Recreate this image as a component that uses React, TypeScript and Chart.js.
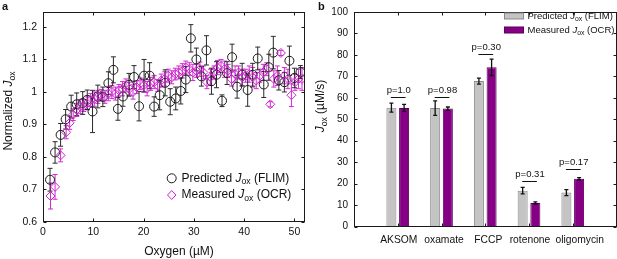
import React, { useEffect, useRef } from 'react';
import { Chart, registerables } from 'chart.js';

Chart.register(...registerables);

const FONT = '"Liberation Sans", Arial, Helvetica, sans-serif';

// ---------- Panel a data ----------
const predictedO2 = [1.4, 2.4, 3.5, 4.5, 5.6, 6.7, 7.9, 8.8, 9.85, 10.9, 11.9, 13.0, 14.0, 14.9, 15.9, 17.1, 18.1, 19.1, 20.1, 21.2, 22.1, 23.2, 24.3, 25.3, 26.4, 27.4, 28.4, 29.4, 30.5, 31.5, 32.5, 33.5, 34.5, 35.6, 36.6, 37.6, 38.6, 39.6, 40.7, 41.7, 42.7, 43.9, 44.9, 45.8, 46.9, 48.0, 49.0, 50.0, 51.2];
const predictedNorm = [0.73, 0.814, 0.868, 0.916, 0.955, 0.962, 0.966, 0.976, 0.94, 0.986, 0.985, 1.027, 1.068, 0.948, 0.986, 1.022, 1.046, 0.956, 1.05, 1.05, 0.955, 0.99, 1.028, 0.97, 0.98, 1.003, 1.038, 1.165, 1.10, 1.048, 1.128, 1.033, 1.053, 0.973, 1.058, 1.107, 1.016, 1.053, 1.006, 1.053, 1.103, 1.023, 1.076, 1.121, 1.036, 1.030, 1.096, 1.043, 1.061];
const predictedNormErr = [0.035, 0.033, 0.035, 0.03, 0.035, 0.035, 0.035, 0.03, 0.065, 0.035, 0.03, 0.035, 0.04, 0.035, 0.03, 0.035, 0.035, 0.045, 0.05, 0.04, 0.03, 0.045, 0.04, 0.04, 0.035, 0.04, 0.04, 0.042, 0.035, 0.03, 0.045, 0.04, 0.04, 0.018, 0.035, 0.04, 0.035, 0.035, 0.05, 0.035, 0.035, 0.04, 0.04, 0.05, 0.03, 0.03, 0.045, 0.03, 0.02];

const measuredO2 = [1.5, 2.4, 3.5, 4.6, 5.3, 6.0, 6.7, 7.4, 8.1, 8.8, 9.5, 10.2, 10.9, 11.6, 12.3, 13.0, 13.7, 14.4, 15.1, 15.8, 16.5, 17.2, 17.9, 18.6, 19.3, 20.0, 20.7, 21.4, 22.1, 22.8, 23.5, 24.2, 24.9, 25.6, 26.3, 27.0, 27.7, 28.4, 29.1, 29.8, 30.5, 31.2, 31.9, 32.6, 33.3, 34.0, 34.7, 35.4, 36.1, 36.8, 37.5, 38.2, 38.9, 39.6, 40.3, 41.0, 41.7, 42.4, 43.1, 43.8, 44.5, 45.2, 45.9, 46.6, 47.3, 48.0, 48.7, 49.4, 50.1, 50.8, 51.5];
const measuredNorm = [0.68, 0.708, 0.805, 0.876, 0.905, 0.93, 0.945, 0.955, 0.958, 0.965, 0.975, 0.978, 0.985, 0.99, 0.985, 0.995, 1.0, 0.995, 1.005, 1.01, 1.02, 1.01, 1.0, 1.015, 1.025, 1.02, 1.01, 1.025, 1.03, 1.02, 1.035, 1.04, 1.05, 1.045, 1.055, 1.06, 1.065, 1.075, 1.07, 1.06, 1.065, 1.07, 1.06, 1.03, 1.045, 1.06, 1.075, 1.08, 1.07, 1.065, 1.04, 1.055, 1.06, 1.045, 1.05, 1.055, 1.045, 1.035, 1.05, 1.06, 1.07, 0.962, 1.04, 1.05, 1.12, 1.05, 1.04, 0.99, 1.03, 1.04, 1.04];
const measuredNormErr = [0.04, 0.038, 0.02, 0.02, 0.02, 0.018, 0.02, 0.022, 0.018, 0.02, 0.02, 0.022, 0.02, 0.018, 0.02, 0.022, 0.02, 0.02, 0.018, 0.022, 0.02, 0.02, 0.022, 0.02, 0.018, 0.02, 0.022, 0.02, 0.02, 0.018, 0.02, 0.022, 0.02, 0.02, 0.018, 0.02, 0.022, 0.02, 0.02, 0.025, 0.02, 0.022, 0.02, 0.02, 0.025, 0.02, 0.022, 0.02, 0.025, 0.02, 0.022, 0.025, 0.02, 0.025, 0.02, 0.025, 0.03, 0.025, 0.02, 0.025, 0.02, 0.008, 0.025, 0.03, 0.008, 0.025, 0.03, 0.035, 0.025, 0.03, 0.035];

const oxygenTicks = [0, 10, 20, 30, 40, 50];
const normTicks = [0.6, 0.7, 0.8, 0.9, 1.0, 1.1, 1.2];

// ---------- Panel b data ----------
const treatments = ['AKSOM', 'oxamate', 'FCCP', 'rotenone', 'oligomycin'];
const predictedJox = [55.4, 55.2, 67.8, 16.7, 15.8];
const predictedJoxErr = [2.1, 3.4, 1.4, 1.5, 1.4];
const measuredJox = [55.3, 55.0, 74.2, 11.0, 22.3];
const measuredJoxErr = [1.6, 0.7, 3.8, 0.5, 0.5];
const pLabels = ['p=1.0', 'p=0.98', 'p=0.30', 'p=0.31', 'p=0.17'];
const pLineLevel = [60.5, 60.5, 80.3, 21.4, 27.0];
const joxTicks = [0, 10, 20, 30, 40, 50, 60, 70, 80, 90, 100];

// small horizontal nudges of the category labels (styling, px)
const CATEGORY_LABEL_NUDGE = [1, 2.5, 3, 1, 7];

// ---------- helpers ----------
type Seg = { t: string; s?: 'i' | 'sub' };
function segFont(seg: Seg, size: number) {
  if (seg.s === 'i') return `italic ${size}px ${FONT}`;
  if (seg.s === 'sub') return `${(size * 0.72).toFixed(2)}px ${FONT}`;
  return `${size}px ${FONT}`;
}
function drawRich(ctx: CanvasRenderingContext2D, segs: Seg[], x: number, y: number, size: number, align: 'left' | 'center') {
  ctx.textBaseline = 'middle';
  ctx.textAlign = 'left';
  let w = 0;
  for (const s of segs) {
    ctx.font = segFont(s, size);
    w += ctx.measureText(s.t).width;
  }
  let cx = align === 'center' ? x - w / 2 : x;
  for (const s of segs) {
    ctx.font = segFont(s, size);
    ctx.fillText(s.t, cx, s.s === 'sub' ? y + size * 0.3 : y);
    cx += ctx.measureText(s.t).width;
  }
}

const errorBarPlugin = {
  id: 'errBarsA',
  beforeDatasetsDraw(chart: any) {
    const { ctx } = chart;
    const xs = chart.scales.x;
    const ys = chart.scales.y;
    chart.data.datasets.forEach((ds: any) => {
      const errs: number[] = ds.errors || [];
      ctx.save();
      ctx.strokeStyle = ds.errColor;
      ctx.lineWidth = 1;
      ds.data.forEach((p: any, i: number) => {
        const e = errs[i] ?? 0;
        const px = xs.getPixelForValue(p.x);
        const y1 = ys.getPixelForValue(p.y - e);
        const y2 = ys.getPixelForValue(p.y + e);
        ctx.beginPath();
        ctx.moveTo(px, y1); ctx.lineTo(px, y2);
        ctx.moveTo(px - 2.5, y1); ctx.lineTo(px + 2.5, y1);
        ctx.moveTo(px - 2.5, y2); ctx.lineTo(px + 2.5, y2);
        ctx.stroke();
      });
      ctx.restore();
    });
  },
  afterDraw(chart: any) {
    const { ctx, chartArea: a } = chart;
    const xs = chart.scales.x;
    const ys = chart.scales.y;
    ctx.save();
    ctx.strokeStyle = '#1a1a1a';
    ctx.lineWidth = 1;
    const L = Math.round(a.left) + 0.5, R = Math.round(a.right) - 0.5;
    const T = Math.round(a.top) + 0.5, B = Math.round(a.bottom) - 0.5;
    ctx.strokeRect(L, T, R - L, B - T);
    ctx.beginPath();
    for (const v of oxygenTicks) {
      const px = Math.round(xs.getPixelForValue(v)) + 0.5;
      ctx.moveTo(px, B); ctx.lineTo(px, B - 3);
      ctx.moveTo(px, T); ctx.lineTo(px, T + 3);
    }
    for (const v of normTicks) {
      const py = Math.round(ys.getPixelForValue(v)) + 0.5;
      ctx.moveTo(L, py); ctx.lineTo(L + 3, py);
      ctx.moveTo(R, py); ctx.lineTo(R - 3, py);
    }
    ctx.stroke();

    ctx.fillStyle = '#111';
    drawRich(ctx, [{ t: 'Oxygen (µM)' }], 179, 251.5, 12, 'center');
    ctx.save();
    ctx.translate(9, 111);
    ctx.rotate(-Math.PI / 2);
    drawRich(ctx, [{ t: 'Normalized ' }, { t: 'J', s: 'i' }, { t: 'ox', s: 'sub' }], 0, 0, 12, 'center');
    ctx.restore();
    ctx.font = `bold 11px ${FONT}`;
    ctx.textBaseline = 'middle';
    ctx.textAlign = 'left';
    ctx.fillText('a', 2, 7);

    // legend
    ctx.lineWidth = 1;
    ctx.strokeStyle = '#1a1a1a';
    ctx.beginPath();
    ctx.arc(171.7, 178.3, 4.5, 0, Math.PI * 2);
    ctx.stroke();
    ctx.strokeStyle = '#cc22cc';
    ctx.beginPath();
    ctx.moveTo(171.7, 195 - 4.5); ctx.lineTo(171.7 + 4.2, 195); ctx.lineTo(171.7, 195 + 4.5); ctx.lineTo(171.7 - 4.2, 195); ctx.closePath();
    ctx.stroke();
    ctx.fillStyle = '#111';
    drawRich(ctx, [{ t: 'Predicted ' }, { t: 'J', s: 'i' }, { t: 'ox', s: 'sub' }, { t: ' (FLIM)' }], 181.5, 178.3, 12, 'left');
    drawRich(ctx, [{ t: 'Measured ' }, { t: 'J', s: 'i' }, { t: 'ox', s: 'sub' }, { t: ' (OCR)' }], 181.5, 195, 12, 'left');
    ctx.restore();
  },
};

const barPlugin = {
  id: 'barDecor',
  beforeDatasetsDraw(chart: any) {
    const { ctx, chartArea: a } = chart;
    const xs = chart.scales.x;
    ctx.save();
    ctx.strokeStyle = '#1a1a1a';
    ctx.lineWidth = 1;
    ctx.beginPath();
    const B = Math.round(a.bottom) - 0.5, T = Math.round(a.top) + 0.5;
    treatments.forEach((_, j) => {
      const px = Math.round(xs.getPixelForValue(j + 1)) + 0.5;
      ctx.moveTo(px, B); ctx.lineTo(px, B - 3);
      ctx.moveTo(px, T); ctx.lineTo(px, T + 3);
    });
    ctx.stroke();
    ctx.restore();
  },
  afterDatasetsDraw(chart: any) {
    const { ctx } = chart;
    const ys = chart.scales.y;
    ctx.save();
    ctx.strokeStyle = '#111';
    ctx.lineWidth = 1.3;
    chart.data.datasets.forEach((ds: any, di: number) => {
      const meta = chart.getDatasetMeta(di);
      const errs: number[] = ds.errors;
      treatments.forEach((_, j) => {
        const el = meta.data[j + 1];
        const v = ds.data[j + 1];
        if (!el || v == null) return;
        const e = errs[j];
        const y1 = ys.getPixelForValue(v - e);
        const y2 = ys.getPixelForValue(v + e);
        ctx.beginPath();
        ctx.moveTo(el.x, y1); ctx.lineTo(el.x, y2);
        ctx.moveTo(el.x - 2, y1); ctx.lineTo(el.x + 2, y1);
        ctx.moveTo(el.x - 2, y2); ctx.lineTo(el.x + 2, y2);
        ctx.stroke();
      });
    });
    const m0 = chart.getDatasetMeta(0);
    const m1 = chart.getDatasetMeta(1);
    ctx.lineWidth = 1;
    ctx.strokeStyle = '#111';
    ctx.fillStyle = '#111';
    treatments.forEach((_, j) => {
      const xa = m0.data[j + 1].x;
      const xb = m1.data[j + 1].x;
      const ly = Math.round(ys.getPixelForValue(pLineLevel[j])) + 0.5;
      ctx.beginPath();
      ctx.moveTo(xa - 0.5, ly); ctx.lineTo(xb + 1.5, ly);
      ctx.stroke();
      ctx.font = `9.5px ${FONT}`;
      ctx.textAlign = 'center';
      ctx.textBaseline = 'alphabetic';
      ctx.fillText(pLabels[j], (xa + xb) / 2 + 1, ly - 5);
    });
    ctx.restore();
  },
  afterDraw(chart: any) {
    const { ctx, chartArea: a } = chart;
    const xs = chart.scales.x;
    const ys = chart.scales.y;
    ctx.save();
    ctx.strokeStyle = '#1a1a1a';
    ctx.lineWidth = 1;
    const L = Math.round(a.left) + 0.5, R = Math.round(a.right) - 0.5;
    const T = Math.round(a.top) + 0.5, B = Math.round(a.bottom) - 0.5;
    ctx.strokeRect(L, T, R - L, B - T);
    ctx.beginPath();
    for (const v of joxTicks) {
      const py = Math.round(ys.getPixelForValue(v)) + 0.5;
      ctx.moveTo(L, py); ctx.lineTo(L + 3, py);
      ctx.moveTo(R, py); ctx.lineTo(R - 3, py);
    }
    ctx.stroke();
    ctx.fillStyle = '#111';
    // category labels
    ctx.font = `10.3px ${FONT}`;
    ctx.textAlign = 'center';
    ctx.textBaseline = 'middle';
    treatments.forEach((t, j) => {
      ctx.fillText(t, xs.getPixelForValue(j + 1) + CATEGORY_LABEL_NUDGE[j], 240.5);
    });
    ctx.save();
    ctx.translate(11, 106);
    ctx.rotate(-Math.PI / 2);
    drawRich(ctx, [{ t: 'J', s: 'i' }, { t: 'ox', s: 'sub' }, { t: ' (µM/s)' }], 0, 0, 12, 'center');
    ctx.restore();
    ctx.font = `bold 11px ${FONT}`;
    ctx.textBaseline = 'middle';
    ctx.textAlign = 'left';
    ctx.fillText('b', 8, 7);
    // legend
    ctx.fillStyle = '#c4c4c4';
    ctx.strokeStyle = '#8a8a8a';
    ctx.fillRect(194.5, 13, 19, 6);
    ctx.strokeRect(194.5, 13, 19, 6);
    ctx.fillStyle = '#860086';
    ctx.strokeStyle = '#5a005a';
    ctx.fillRect(194.5, 27, 19, 6);
    ctx.strokeRect(194.5, 27, 19, 6);
    ctx.fillStyle = '#111';
    drawRich(ctx, [{ t: 'Predicted ' }, { t: 'J', s: 'i' }, { t: 'ox', s: 'sub' }, { t: ' (FLIM)' }], 217.5, 16, 9.5, 'left');
    drawRich(ctx, [{ t: 'Measured ' }, { t: 'J', s: 'i' }, { t: 'ox', s: 'sub' }, { t: ' (OCR)' }], 217.5, 30, 9.5, 'left');
    ctx.restore();
  },
};

export default function App() {
  const refA = useRef<HTMLCanvasElement>(null);
  const refB = useRef<HTMLCanvasElement>(null);

  useEffect(() => {
    const chartA = new Chart(refA.current as HTMLCanvasElement, {
      type: 'scatter',
      data: {
        datasets: [
          {
            label: 'Measured',
            data: measuredO2.map((x, i) => ({ x, y: measuredNorm[i] })),
            errors: measuredNormErr,
            errColor: '#d02ad0',
            pointStyle: 'rectRot',
            pointRadius: 4.5,
            borderColor: '#cc22cc',
            pointBorderColor: '#cc22cc',
            backgroundColor: 'rgba(0,0,0,0)',
            pointBackgroundColor: 'rgba(0,0,0,0)',
            pointBorderWidth: 1,
          } as any,
          {
            label: 'Predicted',
            data: predictedO2.map((x, i) => ({ x, y: predictedNorm[i] })),
            errors: predictedNormErr,
            errColor: '#2a2a2a',
            pointStyle: 'circle',
            pointRadius: 4.5,
            borderColor: '#1a1a1a',
            pointBorderColor: '#1a1a1a',
            backgroundColor: 'rgba(0,0,0,0)',
            pointBackgroundColor: 'rgba(0,0,0,0)',
            pointBorderWidth: 1,
          } as any,
        ],
      },
      options: {
        responsive: false,
        animation: false,
        events: [],
        layout: { padding: { top: 7, right: 5, left: 0, bottom: 0 } },
        plugins: { legend: { display: false }, tooltip: { enabled: false } },
        scales: {
          x: {
            type: 'linear',
            min: 0,
            max: 52,
            afterBuildTicks: (s: any) => { s.ticks = oxygenTicks.map((v) => ({ value: v })); },
            afterFit: (s: any) => { s.height = 37; },
            grid: { display: false, drawTicks: false },
            border: { display: false },
            ticks: { font: { family: FONT, size: 10.5 }, color: '#111', padding: 4, maxRotation: 0, callback: (v: any) => String(v) },
          },
          y: {
            type: 'linear',
            min: 0.6,
            max: 1.245,
            afterBuildTicks: (s: any) => { s.ticks = normTicks.map((v) => ({ value: v })); },
            afterFit: (s: any) => { s.width = 43; },
            grid: { display: false, drawTicks: false },
            border: { display: false },
            ticks: { font: { family: FONT, size: 10.5 }, color: '#111', padding: 6, callback: (v: any) => String(Math.round(Number(v) * 10) / 10) },
          },
        },
      } as any,
      plugins: [errorBarPlugin],
    });

    const chartB = new Chart(refB.current as HTMLCanvasElement, {
      type: 'bar',
      data: {
        labels: ['', ...treatments, ''],
        datasets: [
          {
            label: 'Predicted',
            data: [null, ...predictedJox, null],
            errors: predictedJoxErr,
            backgroundColor: '#c4c4c4',
            borderColor: '#8a8a8a',
            borderWidth: 1,
            categoryPercentage: 0.58,
            barPercentage: 0.79,
          } as any,
          {
            label: 'Measured',
            data: [null, ...measuredJox, null],
            errors: measuredJoxErr,
            backgroundColor: '#860086',
            borderColor: '#5a005a',
            borderWidth: 1,
            categoryPercentage: 0.58,
            barPercentage: 0.79,
          } as any,
        ],
      },
      options: {
        responsive: false,
        animation: false,
        events: [],
        layout: { padding: { top: 5.5, right: 0.5, left: 0, bottom: 0 } },
        plugins: { legend: { display: false }, tooltip: { enabled: false } },
        scales: {
          x: {
            type: 'category',
            offset: false,
            afterFit: (s: any) => { s.height = 32.5; },
            grid: { display: false, drawTicks: false, offset: false },
            border: { display: false },
            ticks: { display: false },
          },
          y: {
            type: 'linear',
            min: 0,
            max: 100,
            afterBuildTicks: (s: any) => { s.ticks = joxTicks.map((v) => ({ value: v })); },
            afterFit: (s: any) => { s.width = 44; },
            grid: { display: false, drawTicks: false },
            border: { display: false },
            ticks: { font: { family: FONT, size: 10 }, color: '#111', padding: 6 },
          },
        },
      } as any,
      plugins: [barPlugin],
    });

    return () => {
      chartA.destroy();
      chartB.destroy();
    };
  }, []);

  return (
    <div style={{ position: 'absolute', left: 0, top: 0, width: 617, height: 259, background: '#fff' }}>
      <canvas ref={refA} width={310} height={259} style={{ position: 'absolute', left: 0, top: 0, width: 310, height: 259 }} />
      <canvas ref={refB} width={307} height={259} style={{ position: 'absolute', left: 310, top: 0, width: 307, height: 259 }} />
    </div>
  );
}
